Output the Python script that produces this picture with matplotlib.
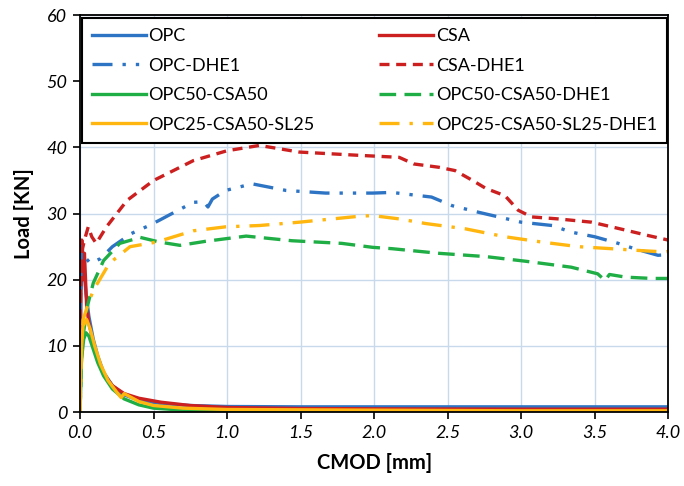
import matplotlib
matplotlib.use("Agg")
import matplotlib.pyplot as plt

plt.rcParams['font.family'] = ['Lato', 'DejaVu Sans']

# ---- data ----
opc_x = [0, 0.005, 0.015, 0.025, 0.04, 0.06, 0.09, 0.12, 0.16, 0.22, 0.3, 0.4, 0.55, 0.75, 1.0, 1.5, 2.0, 3.0, 4.0]
opc_y = [0, 20, 25, 22, 18, 14.5, 11, 8.5, 6, 4, 2.6, 1.8, 1.3, 1.0, 0.85, 0.8, 0.8, 0.8, 0.8]

csa_x = [0, 0.005, 0.012, 0.02, 0.03, 0.045, 0.06, 0.09, 0.12, 0.16, 0.22, 0.3, 0.4, 0.55, 0.75, 1.0, 1.5, 2.0, 3.0, 4.0]
csa_y = [0, 17, 26, 20, 24, 16, 13.5, 10.5, 8, 5.8, 4, 2.8, 2.1, 1.5, 1.0, 0.7, 0.55, 0.5, 0.45, 0.45]

opc_dhe_x = [0, 0.01, 0.03, 0.07, 0.14, 0.22, 0.35, 0.47, 0.54, 0.65, 0.77, 0.84, 0.87, 0.9, 0.99, 1.17, 1.4, 1.67, 1.99, 2.12, 2.39, 2.53, 2.71, 3.0, 3.21, 3.34, 3.5, 3.66, 3.77, 3.93, 4.0]
opc_dhe_y = [14, 25, 23.5, 22.5, 23.2, 25, 27, 28.2, 29, 30.3, 31.7, 31.8, 31.0, 32.2, 33.5, 34.5, 33.5, 33.1, 33.1, 33.2, 32.5, 31.2, 30.2, 28.7, 28.2, 27.2, 26.5, 25.5, 24.7, 23.7, 23.8]

csa_dhe_x = [0, 0.01, 0.03, 0.056, 0.08, 0.11, 0.18, 0.32, 0.5, 0.77, 1.0, 1.22, 1.49, 1.9, 2.17, 2.27, 2.44, 2.55, 2.67, 2.76, 2.89, 2.98, 3.07, 3.25, 3.48, 3.71, 3.86, 4.0]
csa_dhe_y = [14, 24, 26, 28, 26.5, 25.5, 28, 32, 35, 38, 39.5, 40.3, 39.3, 38.8, 38.5, 37.5, 37, 36.5, 35, 33.8, 32.7, 30.5, 29.5, 29.2, 28.7, 27.5, 26.7, 26]

opcc_x = [0, 0.01, 0.025, 0.04, 0.06, 0.09, 0.12, 0.16, 0.22, 0.3, 0.4, 0.5, 0.7, 1.0, 2.0, 3.0, 4.0]
opcc_y = [0, 8, 11, 12, 11.5, 9.5, 7.5, 5.5, 3.5, 2.0, 1.1, 0.6, 0.3, 0.2, 0.15, 0.1, 0.1]

opcc_dhe_x = [0, 0.01, 0.02, 0.05, 0.09, 0.16, 0.27, 0.41, 0.54, 0.68, 0.85, 0.99, 1.13, 1.44, 1.78, 1.99, 2.12, 2.44, 2.76, 3.03, 3.34, 3.52, 3.57, 3.6, 3.71, 3.89, 4.0]
opcc_dhe_y = [0, 8, 11.4, 16, 19.5, 22.9, 25.5, 26.4, 25.7, 25.2, 25.8, 26.2, 26.6, 25.9, 25.5, 24.9, 24.7, 24.0, 23.5, 22.8, 21.9, 20.9, 19.9, 20.8, 20.4, 20.2, 20.2]

sl_x = [0, 0.005, 0.02, 0.045, 0.07, 0.1, 0.14, 0.19, 0.25, 0.28, 0.3, 0.4, 0.5, 0.7, 1.0, 2.0, 3.0, 4.0]
sl_y = [0, 8, 13, 14, 12.5, 10, 7.2, 4.8, 3.0, 2.2, 2.8, 1.6, 1.0, 0.6, 0.4, 0.3, 0.2, 0.2]

sl_dhe_x = [0, 0.01, 0.02, 0.05, 0.09, 0.2, 0.34, 0.52, 0.77, 0.99, 1.22, 1.49, 1.9, 1.99, 2.17, 2.35, 2.62, 2.89, 3.14, 3.39, 3.61, 3.82, 3.98, 4.0]
sl_dhe_y = [0, 9, 13.9, 16, 18.4, 22.5, 25, 25.7, 27.4, 28, 28.2, 28.7, 29.6, 29.7, 29.2, 28.5, 27.7, 26.5, 25.7, 25, 24.7, 24.4, 24.2, 24.3]

x_ticks = [0.0, 0.5, 1.0, 1.5, 2.0, 2.5, 3.0, 3.5, 4.0]
y_ticks = [0, 10, 20, 30, 40, 50, 60]

# ---- style ----
BLUE = '#2E74C4'
RED = '#CC1F1F'
GREEN = '#1FAE45'
YELLOW = '#FFB60F'
lw = 2.4

fig = plt.figure(figsize=(6.84, 4.86), dpi=100)
ax = fig.add_axes([0.117, 0.152, 0.860, 0.817])

h_opc, = ax.plot(opc_x, opc_y, color=BLUE, lw=lw, label='OPC')
h_csa, = ax.plot(csa_x, csa_y, color=RED, lw=lw, label='CSA')
h_opcd, = ax.plot(opc_dhe_x, opc_dhe_y, color=BLUE, lw=lw, ls=(0, (6, 3, 1, 3, 1, 3)), label='OPC-DHE1')
h_csad, = ax.plot(csa_dhe_x, csa_dhe_y, color=RED, lw=lw, ls=(0, (3, 2)), label='CSA-DHE1')
h_oc, = ax.plot(opcc_x, opcc_y, color=GREEN, lw=lw, label='OPC50-CSA50')
h_ocd, = ax.plot(opcc_dhe_x, opcc_dhe_y, color=GREEN, lw=lw, ls=(0, (5, 2.5)), label='OPC50-CSA50-DHE1')
h_sl, = ax.plot(sl_x, sl_y, color=YELLOW, lw=lw, label='OPC25-CSA50-SL25')
h_sld, = ax.plot(sl_dhe_x, sl_dhe_y, color=YELLOW, lw=lw, ls=(0, (6, 3, 1, 3)), label='OPC25-CSA50-SL25-DHE1')

ax.set_xlim(0, 4.0)
ax.set_ylim(0, 60)
ax.set_xticks(x_ticks)
ax.set_xticklabels([f'{v:.1f}' for v in x_ticks])
ax.set_yticks(y_ticks)
ax.set_yticklabels([str(v) for v in y_ticks])
ax.grid(True, color='#C9D9EC', lw=1.0)
ax.set_axisbelow(True)
for s in ax.spines.values():
    s.set_color('black')
    s.set_linewidth(1.3)
ax.tick_params(direction='out', length=5, width=1.2, labelsize=13, pad=4)
for lab in ax.get_xticklabels() + ax.get_yticklabels():
    lab.set_fontstyle('italic')

ax.set_xlabel('CMOD [mm]', fontsize=14.5, fontweight='bold', labelpad=9)
ax.set_ylabel('Load [KN]', fontsize=14.5, fontweight='bold', labelpad=9)

handles = [h_opc, h_opcd, h_oc, h_sl, h_csa, h_csad, h_ocd, h_sld]
leg = ax.legend(handles=handles, labels=[h.get_label() for h in handles],
                loc='upper left', bbox_to_anchor=(0.003, 0.672, 0.995, 0.32), mode='expand',
                ncol=2, fontsize=13, frameon=True, fancybox=False, handlelength=3.0,
                handletextpad=0.15, borderaxespad=0, labelspacing=0.75, borderpad=0.55)
leg.get_frame().set_edgecolor('black')
leg.get_frame().set_linewidth(1.5)
leg.get_frame().set_alpha(1)

fig.savefig('out.png', dpi=100)
